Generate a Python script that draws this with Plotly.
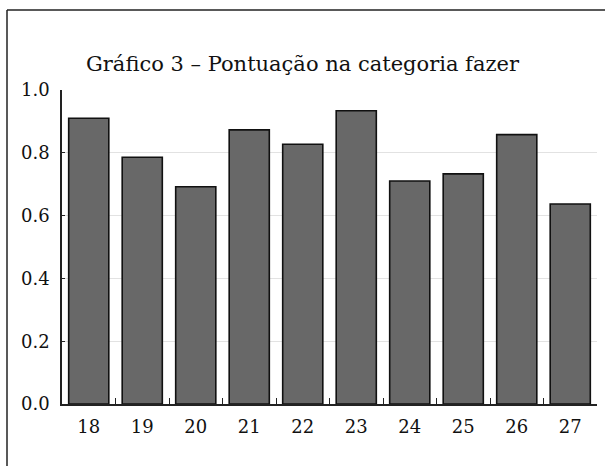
import plotly.graph_objects as go

categories = ["18", "19", "20", "21", "22", "23", "24", "25", "26", "27"]
scores = [0.910, 0.786, 0.692, 0.873, 0.827, 0.934, 0.710, 0.733, 0.858, 0.637]
y_ticks = [0.0, 0.2, 0.4, 0.6, 0.8, 1.0]
y_tick_labels = ["0.0", "0.2", "0.4", "0.6", "0.8", "1.0"]
title_text = "Gráfico 3 – Pontuação na categoria fazer"

W, H = 605, 466
L, R, T, B = 62, 8, 90, 62
pw, ph = W - L - R, H - T - B

def px_x(px):
    return (px - L) / pw

def px_y(py):
    return (H - B - py) / ph

fig = go.Figure(go.Bar(
    x=categories, y=scores,
    marker=dict(color="#686868", line=dict(color="#111111", width=1.6)),
))

font = "DejaVu Serif, Liberation Serif, serif"

fig.update_layout(
    width=W, height=H,
    margin=dict(l=L, r=R, t=T, b=B, autoexpand=False),
    paper_bgcolor="white", plot_bgcolor="white",
    bargap=0.25,
    showlegend=False,
    font=dict(family=font, color="#111111", size=16),
    title=dict(text=title_text, x=0.5, xref="container", xanchor="center",
               y=1 - 64 / H, yref="container", yanchor="middle",
               font=dict(family=font, size=21, color="#111111")),
)

fig.update_xaxes(
    type="category", automargin=False,
    showline=True, linecolor="#222222", linewidth=1.5,
    ticks="inside", ticklen=6, tickwidth=1.2, tickcolor="#222222",
    tickson="boundaries",
    showgrid=False,
    tickfont=dict(family=font, size=18, color="#111111"),
    ticklabelstandoff=6,
)
fig.update_yaxes(
    range=[0, 1.0], automargin=False,
    tickvals=y_ticks, ticktext=y_tick_labels,
    showline=True, linecolor="#222222", linewidth=1.5,
    ticks="inside", ticklen=3, tickwidth=1.2, tickcolor="#222222",
    showgrid=True, gridcolor="#e2e2e2", gridwidth=1.2,
    zeroline=False,
    tickfont=dict(family=font, size=18, color="#111111"),
    ticklabelstandoff=7,
)

# outer frame (left and top edges visible)
fig.add_shape(type="line", xref="paper", yref="paper",
              x0=px_x(7), y0=px_y(10), x1=px_x(W + 10), y1=px_y(10),
              line=dict(color="#222222", width=1.5))
fig.add_shape(type="line", xref="paper", yref="paper",
              x0=px_x(7), y0=px_y(10), x1=px_x(7), y1=px_y(H + 10),
              line=dict(color="#222222", width=1.5))

fig.write_html("out.html", config={"displayModeBar": False},
               post_script="document.body.style.margin='0';")
